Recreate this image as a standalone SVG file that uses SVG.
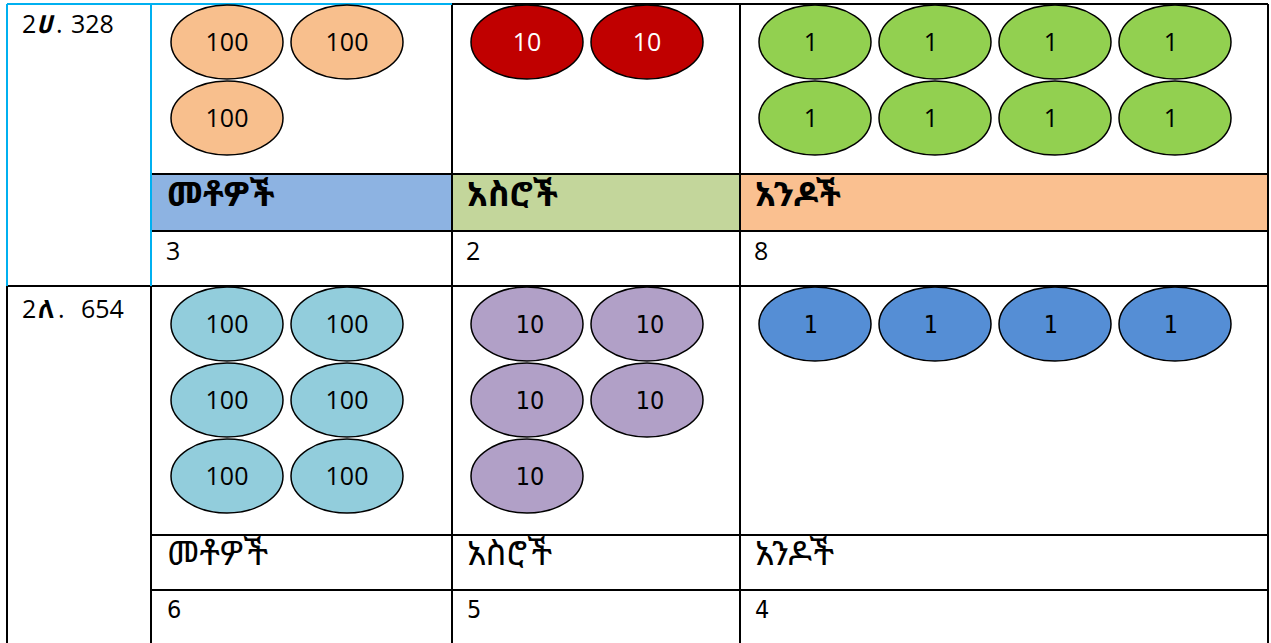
<svg xmlns="http://www.w3.org/2000/svg" width="1271" height="643" viewBox="0 0 1271 643">
<style>
.g{stroke:#000;stroke-width:2;fill:none}
.b{stroke:#00B0F0;stroke-width:2;fill:none}
.e{stroke:#000;stroke-width:1.5}
.t{font-family:"Open Sans","Liberation Sans",sans-serif;font-size:25px;fill:#000;text-anchor:middle}
.tn{font-family:"DejaVu Sans Condensed","Open Sans",sans-serif;font-stretch:condensed;font-size:25px;fill:#000;text-anchor:middle}
.l{font-family:"Open Sans","Liberation Sans",sans-serif;font-size:25px;fill:#000}
.ln{font-family:"DejaVu Sans Condensed","Open Sans",sans-serif;font-stretch:condensed;font-size:25px;fill:#000}
.et{font-family:"Noto Sans Ethiopic","Noto Serif Ethiopic","Abyssinica SIL","FreeSerif","Noto Sans",sans-serif;font-weight:bold}
.h{font-family:"Noto Sans Ethiopic","Noto Serif Ethiopic","Abyssinica SIL","FreeSerif","Noto Sans",sans-serif;font-size:34px;font-weight:bold;fill:#000}
.h2{font-family:"Noto Sans Ethiopic","Noto Serif Ethiopic","Abyssinica SIL","FreeSerif","Noto Sans",sans-serif;font-size:34px;fill:#000}
.w{fill:#fff}
</style>
<rect width="1271" height="643" fill="#fff"/>
<g id="header-fills">
<rect x="151" y="174" width="301" height="57" fill="#8DB3E2"/>
<rect x="452" y="174" width="288" height="57" fill="#C3D69B"/>
<rect x="740" y="174" width="528" height="57" fill="#FAC090"/>
</g>
<g id="grid">
<path class="g" d="M452 4H1268M1268 4V643M452 4V643M740 4V643M151 174H1268M151 231H1268M7 286H1268M7 286V643M151 286V643M151 535H1268M151 590H1268"/>
<path class="b" d="M7 4H452M7 4V286M151 4V286"/>
</g>
<g id="row1-label"><text class="l" y="33"><tspan x="22">2</tspan><tspan x="36" class="et" font-style="italic">ሀ</tspan><tspan x="56">.</tspan><tspan x="71">328</tspan></text></g>
<g id="row1-hundreds">
<ellipse class="e" cx="227" cy="42" rx="56" ry="37" fill="#F8BF8D"/><text class="t" x="227" y="51">100</text>
<ellipse class="e" cx="347" cy="42" rx="56" ry="37" fill="#F8BF8D"/><text class="t" x="347" y="51">100</text>
<ellipse class="e" cx="227" cy="118" rx="56" ry="37" fill="#F8BF8D"/><text class="t" x="227" y="127">100</text>
</g>
<g id="row1-tens">
<ellipse class="e" cx="527" cy="42" rx="56" ry="37" fill="#C00000"/><text class="t w" x="527" y="51">10</text>
<ellipse class="e" cx="647" cy="42" rx="56" ry="37" fill="#C00000"/><text class="t w" x="647" y="51">10</text>
</g>
<g id="row1-ones">
<ellipse class="e" cx="815" cy="42" rx="56" ry="37" fill="#92D050"/><text class="t" x="811" y="51">1</text>
<ellipse class="e" cx="935" cy="42" rx="56" ry="37" fill="#92D050"/><text class="t" x="931" y="51">1</text>
<ellipse class="e" cx="1055" cy="42" rx="56" ry="37" fill="#92D050"/><text class="t" x="1051" y="51">1</text>
<ellipse class="e" cx="1175" cy="42" rx="56" ry="37" fill="#92D050"/><text class="t" x="1171" y="51">1</text>
<ellipse class="e" cx="815" cy="118" rx="56" ry="37" fill="#92D050"/><text class="t" x="811" y="127">1</text>
<ellipse class="e" cx="935" cy="118" rx="56" ry="37" fill="#92D050"/><text class="t" x="931" y="127">1</text>
<ellipse class="e" cx="1055" cy="118" rx="56" ry="37" fill="#92D050"/><text class="t" x="1051" y="127">1</text>
<ellipse class="e" cx="1175" cy="118" rx="56" ry="37" fill="#92D050"/><text class="t" x="1171" y="127">1</text>
</g>
<g id="row1-headers">
<text class="h" x="167" y="206">መቶዎች</text>
<text class="h" x="467" y="206">አስሮች</text>
<text class="h" x="755" y="206">አንዶች</text>
</g>
<g id="row1-values">
<text class="l" x="166" y="260">3</text>
<text class="l" x="466" y="260">2</text>
<text class="l" x="754" y="260">8</text>
</g>
<g id="row2-label"><text class="l" y="318"><tspan x="22">2</tspan><tspan x="38" class="et">ለ</tspan><tspan x="58">.</tspan><tspan x="81">654</tspan></text></g>
<g id="row2-hundreds">
<ellipse class="e" cx="227" cy="324" rx="56" ry="37" fill="#92CDDC"/><text class="t" x="227" y="333">100</text>
<ellipse class="e" cx="347" cy="324" rx="56" ry="37" fill="#92CDDC"/><text class="t" x="347" y="333">100</text>
<ellipse class="e" cx="227" cy="400" rx="56" ry="37" fill="#92CDDC"/><text class="t" x="227" y="409">100</text>
<ellipse class="e" cx="347" cy="400" rx="56" ry="37" fill="#92CDDC"/><text class="t" x="347" y="409">100</text>
<ellipse class="e" cx="227" cy="476" rx="56" ry="37" fill="#92CDDC"/><text class="t" x="227" y="485">100</text>
<ellipse class="e" cx="347" cy="476" rx="56" ry="37" fill="#92CDDC"/><text class="t" x="347" y="485">100</text>
</g>
<g id="row2-tens">
<ellipse class="e" cx="527" cy="324" rx="56" ry="37" fill="#B1A0C7"/><text class="tn" x="530" y="333">10</text>
<ellipse class="e" cx="647" cy="324" rx="56" ry="37" fill="#B1A0C7"/><text class="tn" x="650" y="333">10</text>
<ellipse class="e" cx="527" cy="400" rx="56" ry="37" fill="#B1A0C7"/><text class="tn" x="530" y="409">10</text>
<ellipse class="e" cx="647" cy="400" rx="56" ry="37" fill="#B1A0C7"/><text class="tn" x="650" y="409">10</text>
<ellipse class="e" cx="527" cy="476" rx="56" ry="37" fill="#B1A0C7"/><text class="tn" x="530" y="485">10</text>
</g>
<g id="row2-ones">
<ellipse class="e" cx="815" cy="324" rx="56" ry="37" fill="#558ED5"/><text class="tn" x="811" y="333">1</text>
<ellipse class="e" cx="935" cy="324" rx="56" ry="37" fill="#558ED5"/><text class="tn" x="931" y="333">1</text>
<ellipse class="e" cx="1055" cy="324" rx="56" ry="37" fill="#558ED5"/><text class="tn" x="1051" y="333">1</text>
<ellipse class="e" cx="1175" cy="324" rx="56" ry="37" fill="#558ED5"/><text class="tn" x="1171" y="333">1</text>
</g>
<g id="row2-headers">
<text class="h2" x="167" y="565">መቶዎች</text>
<text class="h2" x="467" y="565">አስሮች</text>
<text class="h2" x="755" y="565">አንዶች</text>
</g>
<g id="row2-values">
<text class="ln" x="167" y="618">6</text>
<text class="ln" x="467" y="618">5</text>
<text class="ln" x="755" y="618">4</text>
</g>
</svg>
